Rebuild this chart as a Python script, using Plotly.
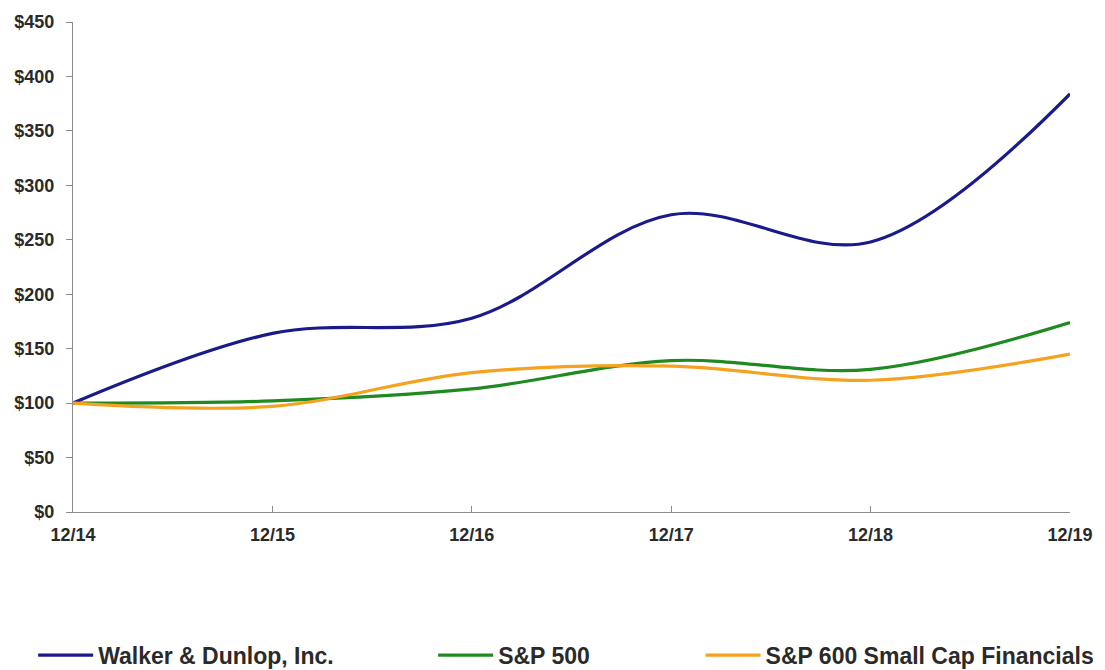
import plotly.graph_objects as go

periods = ["12/14", "12/15", "12/16", "12/17", "12/18", "12/19"]
walker_dunlop = [100, 164, 178, 273, 248, 384]
sp500 = [100, 102, 113, 139, 131, 174]
sp600_fin = [100, 97, 128, 134, 121, 145]
y_ticks = [0, 50, 100, 150, 200, 250, 300, 350, 400, 450]

names = ["Walker & Dunlop, Inc.", "S&P 500", "S&P 600 Small Cap Financials"]
series = [walker_dunlop, sp500, sp600_fin]
colors = ["#1a1a8a", "#1f8a1f", "#f5a21f"]
legend_ids = ["legend", "legend2", "legend3"]
legend_x = [0.03, 0.392, 0.634]

FONT = "Liberation Sans, Arial, sans-serif"

fig = go.Figure()
for name, vals, col, lid in zip(names, series, colors, legend_ids):
    fig.add_trace(go.Scatter(
        x=list(range(len(periods))), y=vals, name=name, mode="lines",
        line=dict(color=col, width=3.2, shape="spline", smoothing=1.0),
        legend=lid,
    ))

legend_common = dict(
    orientation="h", xref="container", yref="container", yanchor="middle",
    y=0.022, font=dict(family=FONT, size=23, color="#2a2a2a", weight="bold"),
    itemwidth=55, bgcolor="rgba(0,0,0,0)", tracegroupgap=0,
)
layout_legends = {}
for lid, lx in zip(legend_ids, legend_x):
    layout_legends[lid] = dict(legend_common, x=lx, xanchor="left")

fig.update_layout(
    width=1105, height=670,
    paper_bgcolor="white", plot_bgcolor="white",
    margin=dict(l=73, r=35, t=15, b=158),
    showlegend=True,
    **layout_legends,
)
fig.update_xaxes(
    range=[0, len(periods) - 1],
    tickmode="array", tickvals=list(range(len(periods))), ticktext=periods,
    showgrid=False, zeroline=False,
    showline=True, linecolor="#8c8c8c", linewidth=1.2,
    ticks="inside", ticklen=6, tickcolor="#8c8c8c",
    ticklabelstandoff=6,
    tickfont=dict(family=FONT, size=18, color="#2a2a2a", weight="bold"),
)
fig.update_yaxes(
    range=[0, 450],
    tickmode="array", tickvals=y_ticks, ticktext=[f"${v}" for v in y_ticks],
    showgrid=False, zeroline=False,
    showline=True, linecolor="#8c8c8c", linewidth=1.2,
    ticks="outside", ticklen=6, tickcolor="#8c8c8c",
    ticklabelstandoff=8,
    tickfont=dict(family=FONT, size=18, color="#2a2a2a", weight="bold"),
)

fig.write_html("out.html")
